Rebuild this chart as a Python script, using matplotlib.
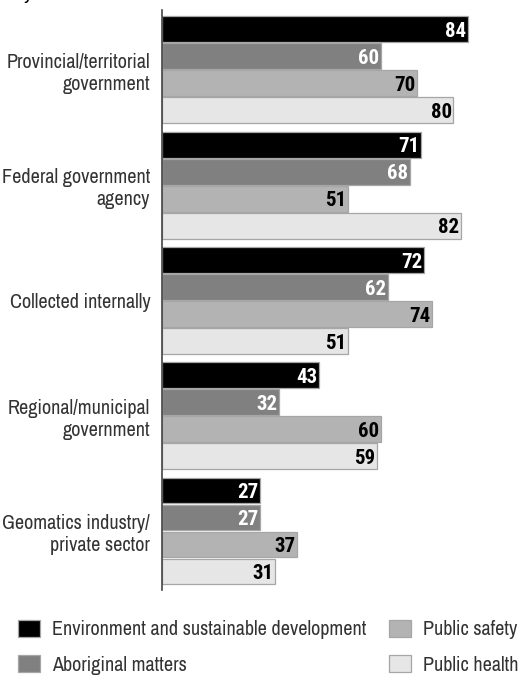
import numpy as np
import matplotlib
matplotlib.use('Agg')
import matplotlib.pyplot as plt
from matplotlib.patches import Patch

plt.rcParams['font.family'] = ['Archivo Narrow', 'DejaVu Sans']

# data
sources = ['Provincial/territorial\ngovernment',
           'Federal government\nagency',
           'Collected internally',
           'Regional/municipal\ngovernment',
           'Geomatics industry/\nprivate sector']
series = ['Environment and sustainable development', 'Aboriginal matters',
          'Public safety', 'Public health']
env = [84, 71, 72, 43, 27]
abor = [60, 68, 62, 32, 27]
safety = [70, 51, 74, 60, 37]
health = [80, 82, 51, 59, 31]

colors = ['#000000', '#808080', '#b3b3b3', '#e6e6e6']
txt_colors = ['white', 'white', 'black', 'black']

W, H = 522, 677
fig = plt.figure(figsize=(W / 100, H / 100), dpi=100)
ax = fig.add_axes([162 / W, 1 - 590 / H, 1 - 162 / W, 580 / H])

step = 4.27
values = [env, abor, safety, health]
for j, vals in enumerate(values):
    ys = np.arange(len(sources)) * step + j
    ax.barh(ys, vals, height=0.96, color=colors[j], edgecolor='#a6a6a6',
            linewidth=0.9)
    for y, v in zip(ys, vals):
        ax.text(v - 0.4, y + 0.08, str(v), ha='right', va='center',
                color=txt_colors[j], fontsize=15, fontweight='bold',
                family='Roboto Condensed')

ax.set_xlim(0, (W - 162) / 3.643)
ax.set_ylim(4 * step + 3.5 + 5 / 27, -0.72)
ax.set_yticks(np.arange(len(sources)) * step + 1.5)
ax.set_yticklabels(sources, fontsize=14.5, color='#333333')
ax.tick_params(axis='y', length=0, pad=8.5)
ax.set_xticks([])
for s in ['top', 'right', 'bottom']:
    ax.spines[s].set_visible(False)
ax.spines['left'].set_color('#444444')
ax.spines['left'].set_linewidth(1.2)

# part of the heading above, cut off at the top edge
fig.text(24 / W, 1 + 1 / H, 'y', ha='left', va='baseline', fontsize=14.5)

handles = [Patch(facecolor=c, edgecolor='#a6a6a6', linewidth=0.9) for c in colors]
fig.legend(handles, series, loc='upper left', bbox_to_anchor=(18 / W, 1 - 620 / H),
           ncol=2, frameon=False, fontsize=14.5, borderpad=0, borderaxespad=0,
           handlelength=1.1, handleheight=0.9, handletextpad=0.6,
           columnspacing=1.1, labelspacing=0.8, labelcolor='#333333')

fig.savefig('out.png', dpi=100)
